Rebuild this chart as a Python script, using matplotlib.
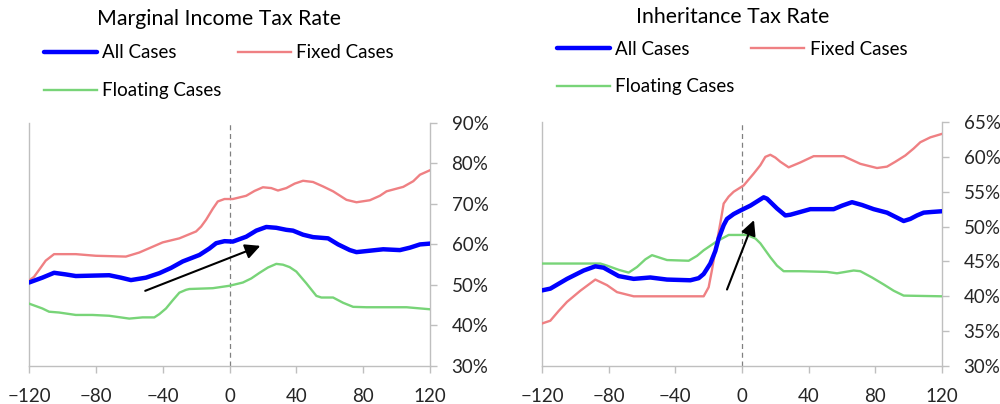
import matplotlib
matplotlib.use("Agg")
import matplotlib.pyplot as plt
from matplotlib.ticker import PercentFormatter, FixedLocator

plt.rcParams['font.family'] = ['Lato', 'DejaVu Sans']

# ---- Data: Marginal Income Tax Rate ----
inc_all_x = [-120, -112, -105, -98, -92, -72, -65, -59, -50, -42, -35, -28, -18, -12, -8, -3, 2, 10, 16, 22, 28, 34, 38, 44, 50, 59, 65, 72, 76, 92, 102, 108, 114, 120]
inc_all_y = [50.6, 51.8, 53.0, 52.6, 52.2, 52.4, 51.8, 51.2, 51.8, 52.9, 54.2, 55.8, 57.4, 59.0, 60.3, 60.8, 60.7, 61.9, 63.4, 64.3, 64.1, 63.6, 63.4, 62.4, 61.8, 61.5, 60.0, 58.6, 58.1, 58.8, 58.6, 59.2, 60.0, 60.2]

inc_fix_x = [-120, -117, -114, -110, -105, -92, -80, -62, -54, -40, -30, -20, -17, -14, -10, -7, -3, 2, 10, 15, 20, 25, 29, 34, 39, 44, 50, 56, 62, 70, 76, 84, 90, 94, 104, 110, 114, 120]
inc_fix_y = [51.1, 52.0, 53.7, 56.0, 57.6, 57.6, 57.2, 57.0, 58.0, 60.5, 61.5, 63.2, 64.4, 66.1, 68.8, 70.6, 71.2, 71.2, 72.0, 73.2, 74.1, 73.9, 73.3, 73.9, 75.0, 75.7, 75.4, 74.3, 73.1, 71.0, 70.4, 70.9, 72.0, 73.1, 74.2, 75.6, 77.2, 78.3]

inc_flt_x = [-120, -112, -108, -102, -92, -82, -72, -60, -52, -45, -42, -38, -34, -30, -26, -24, -10, 0, 8, 13, 18, 23, 28, 32, 36, 40, 46, 52, 55, 62, 68, 74, 82, 106, 120]
inc_flt_y = [45.4, 44.2, 43.4, 43.2, 42.6, 42.6, 42.4, 41.7, 42.0, 42.0, 42.8, 44.2, 46.2, 48.1, 48.8, 49.0, 49.2, 49.8, 50.6, 51.6, 53.0, 54.3, 55.2, 55.0, 54.4, 53.3, 50.4, 47.3, 46.9, 46.9, 45.6, 44.6, 44.5, 44.5, 44.0]

inc_arrow = [(-52, 48.3), (20, 59.9)]

# ---- Data: Inheritance Tax Rate ----
inh_all_x = [-120, -115, -105, -95, -88, -83, -74, -65, -55, -45, -31, -26, -23, -19, -16, -14, -11, -9, -5, -1, 5, 9, 13, 15, 18, 21, 26, 29, 35, 41, 55, 60, 66, 72, 79, 87, 92, 97, 101, 105, 109, 114, 120]
inh_all_y = [40.85, 41.1, 42.5, 43.7, 44.3, 44.1, 42.9, 42.5, 42.7, 42.4, 42.3, 42.6, 43.2, 44.7, 46.5, 48.3, 50.2, 51.1, 51.8, 52.3, 53.0, 53.6, 54.2, 54.0, 53.3, 52.6, 51.6, 51.7, 52.1, 52.5, 52.5, 53.0, 53.5, 53.1, 52.5, 52.0, 51.4, 50.8, 51.1, 51.6, 52.0, 52.1, 52.2]

inh_fix_x = [-120, -115, -110, -105, -97, -88, -81, -75, -65, -45, -23, -20, -18, -16, -13, -11, -8, -5, 1, 7, 11, 14, 17, 20, 23, 28, 35, 43, 61, 71, 81, 87, 92, 98, 103, 107, 113, 120]
inh_fix_y = [36.1, 36.5, 37.9, 39.2, 40.8, 42.4, 41.6, 40.6, 40.0, 40.0, 40.0, 41.3, 43.8, 46.6, 50.5, 53.3, 54.3, 55.0, 55.9, 57.6, 58.8, 60.0, 60.3, 59.9, 59.3, 58.5, 59.2, 60.1, 60.1, 59.0, 58.4, 58.6, 59.3, 60.2, 61.2, 62.1, 62.8, 63.3]

inh_flt_x = [-120, -85, -81, -74, -68, -63, -58, -54, -45, -32, -27, -23, -15, -8, 3, 8, 11, 14, 17, 21, 25, 35, 51, 57, 67, 71, 78, 85, 91, 97, 120]
inh_flt_y = [44.7, 44.7, 44.4, 43.8, 43.4, 44.2, 45.3, 45.9, 45.2, 45.1, 45.8, 46.6, 47.9, 48.8, 48.8, 48.3, 47.6, 46.6, 45.6, 44.4, 43.6, 43.6, 43.5, 43.3, 43.7, 43.6, 42.7, 41.7, 40.8, 40.1, 40.0]

inh_arrow = [(-9.6, 40.6), (7.8, 51.3)]

x_ticks = [-120, -80, -40, 0, 40, 80, 120]

BLUE = '#0000FF'
RED = '#EF8083'
GREEN = '#78D478'
SPINE = '#BFBFBF'
TXT = '#262626'

fig = plt.figure(figsize=(10, 4.04), dpi=100)
axL = fig.add_axes([0.029, 0.094, 0.401, 0.602])
axR = fig.add_axes([0.542, 0.094, 0.400, 0.604])


def style(ax, ylo, yhi, ystep, title, title_x, title_y, leg_x, leg_y):
    ax.set_xlim(-120, 120)
    ax.set_ylim(ylo, yhi)
    ax.xaxis.set_major_locator(FixedLocator(x_ticks))
    ticks = []
    v = ylo
    while v <= yhi + 1e-9:
        ticks.append(v)
        v += ystep
    ax.yaxis.set_major_locator(FixedLocator(ticks))
    ax.yaxis.set_major_formatter(PercentFormatter(100, decimals=0))
    ax.yaxis.tick_right()
    ax.spines['top'].set_visible(False)
    for s in ['left', 'right', 'bottom']:
        ax.spines[s].set_color(SPINE)
        ax.spines[s].set_linewidth(1.0)
    ax.tick_params(axis='both', colors=SPINE, labelcolor=TXT, labelsize=13.5,
                   length=5, width=1.0, direction='out')
    ax.tick_params(axis='y', pad=10.5)
    ax.tick_params(axis='x', pad=11)
    ax.axvline(0, color='#808080', lw=0.9, ls=(0, (4, 3)), zorder=1)
    fig.text(title_x, title_y, title, ha='center', va='center', fontsize=15.3, color='black')
    h, l = ax.get_legend_handles_labels()
    order = [0, 2, 1]
    ax.legend([h[i] for i in order], [l[i] for i in order],
              loc='upper left', bbox_to_anchor=(leg_x, leg_y), bbox_transform=fig.transFigure,
              ncol=2, frameon=False, fontsize=13.5, handlelength=2.8, handletextpad=0.3,
              columnspacing=0.9, labelspacing=1.1, borderaxespad=0, borderpad=0)


for ax, data, arrow in [
    (axL, [(inc_all_x, inc_all_y), (inc_fix_x, inc_fix_y), (inc_flt_x, inc_flt_y)], inc_arrow),
    (axR, [(inh_all_x, inh_all_y), (inh_fix_x, inh_fix_y), (inh_flt_x, inh_flt_y)], inh_arrow),
]:
    (ax_, ay_), (fx, fy), (gx, gy) = data
    ax.plot(ax_, ay_, color=BLUE, lw=3.2, label='All Cases', zorder=4,
            solid_capstyle='round', solid_joinstyle='round')
    ax.plot(fx, fy, color=RED, lw=1.7, label='Fixed Cases', zorder=3, solid_joinstyle='round')
    ax.plot(gx, gy, color=GREEN, lw=1.7, label='Floating Cases', zorder=3, solid_joinstyle='round')
    (x0, y0), (x1, y1) = arrow
    ax.annotate('', xy=(x1, y1), xytext=(x0, y0),
                arrowprops=dict(arrowstyle='-|>,head_length=0.9,head_width=0.45', color='black', lw=1.5),
                zorder=5)

style(axL, 30, 90, 10, 'Marginal Income Tax Rate', 0.219, 0.952, 0.044, 0.890)
style(axR, 30, 65, 5, 'Inheritance Tax Rate', 0.733, 0.959, 0.557, 0.899)

fig.savefig('out.png', dpi=100)
